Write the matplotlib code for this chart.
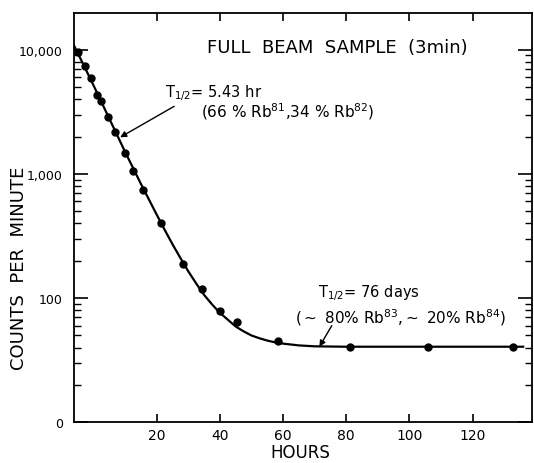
import matplotlib.pyplot as plt
import numpy as np

plt.rcParams['font.family'] = ['DejaVu Sans']
plt.rcParams['mathtext.fontset'] = 'dejavusans'

# measured points (hours, counts per minute)
hours = [-5.0, -2.8, -0.9, 1.2, 2.5, 4.6, 6.7, 9.9, 12.4, 15.7, 21.3,
         28.2, 34.2, 40.1, 45.5, 58.3, 81.3, 105.8, 132.7]
counts = [9530, 7330, 5920, 4330, 3850, 2870, 2160, 1470, 1055, 740, 406,
          188, 119, 79, 64, 45, 40.7, 40.7, 40.7]

# drawn decay curve
curve_h = [-6.2, -3, 0, 5, 10, 15, 20, 22.5, 25, 27.5, 30, 32.5, 35, 37.5,
           40, 42.5, 45, 47.5, 50, 52.5, 55, 57.5, 60, 65, 70, 80, 100, 120, 136]
curve_c = [10800, 7400, 5150, 2780, 1500, 830, 469, 355, 271, 210, 164, 131,
           106, 89, 76, 67, 59, 54, 50, 47.5, 45.5, 44, 43, 41.6, 40.9, 40.6,
           40.6, 40.6, 40.6]

y_ticks = [10, 100, 1000, 10000]
y_labels = ['0', '100', '1,000', '10,000']
x_ticks = [20, 40, 60, 80, 100, 120]

fig = plt.figure(figsize=(5.34, 4.64), dpi=100)
ax = fig.add_axes([74/534, 1-423.3/464, (532-74)/534, (423.3-14)/464])

ax.plot(curve_h, curve_c, color='black', lw=1.6, zorder=2)
ax.plot(hours, counts, 'o', color='black', ms=5, zorder=3)

ax.set_yscale('log')
ax.set_xlim(-6.2, 138.8)
ax.set_ylim(10, 19750)
ax.set_yticks(y_ticks)
ax.set_yticklabels(y_labels)
ax.set_xticks(x_ticks)
ax.set_xticklabels([str(t) for t in x_ticks])

for s in ax.spines.values():
    s.set_linewidth(1.3)

ax.tick_params(axis='y', which='major', direction='in', length=10, width=1.2,
               labelsize=9, pad=8, right=True)
ax.tick_params(axis='y', which='minor', direction='in', length=5, width=1,
               right=True)
ax.tick_params(axis='x', which='major', direction='in', length=6, width=1.2,
               labelsize=10, pad=4, top=True)
ax.tick_params(axis='x', which='minor', bottom=False, top=False)

ax.text(0.576, 0.917, 'FULL  BEAM  SAMPLE  (3min)', transform=ax.transAxes,
        ha='center', va='center', fontsize=13)

ax.annotate('', xy=(8.4, 1970), xytext=(25.5, 3500),
            arrowprops=dict(arrowstyle='-|>', color='black', lw=1,
                            mutation_scale=9, shrinkA=0, shrinkB=0))
ax.text(22.6, 4560, r'T$_{1/2}$= 5.43 hr', fontsize=10.5, ha='left', va='center')
ax.text(34.0, 3210, r'(66 % Rb$^{81}$,34 % Rb$^{82}$)', fontsize=11,
        ha='left', va='center')

ax.annotate('', xy=(71.5, 40.6), xytext=(75.4, 60),
            arrowprops=dict(arrowstyle='-|>', color='black', lw=1,
                            mutation_scale=9, shrinkA=0, shrinkB=0))
ax.text(71.0, 112, r'T$_{1/2}$= 76 days', fontsize=10.5, ha='left', va='center')
ax.text(63.8, 70.4, r'($\sim$ 80% Rb$^{83}$,$\sim$ 20% Rb$^{84}$)', fontsize=11,
        ha='left', va='center')

fig.text(300/534, 1-453/464, 'HOURS', ha='center', va='center', fontsize=12)
fig.text(19/534, 1-268/464, 'COUNTS  PER  MINUTE', ha='center', va='center',
         rotation=90, fontsize=13)

fig.savefig('out.png', dpi=100)
